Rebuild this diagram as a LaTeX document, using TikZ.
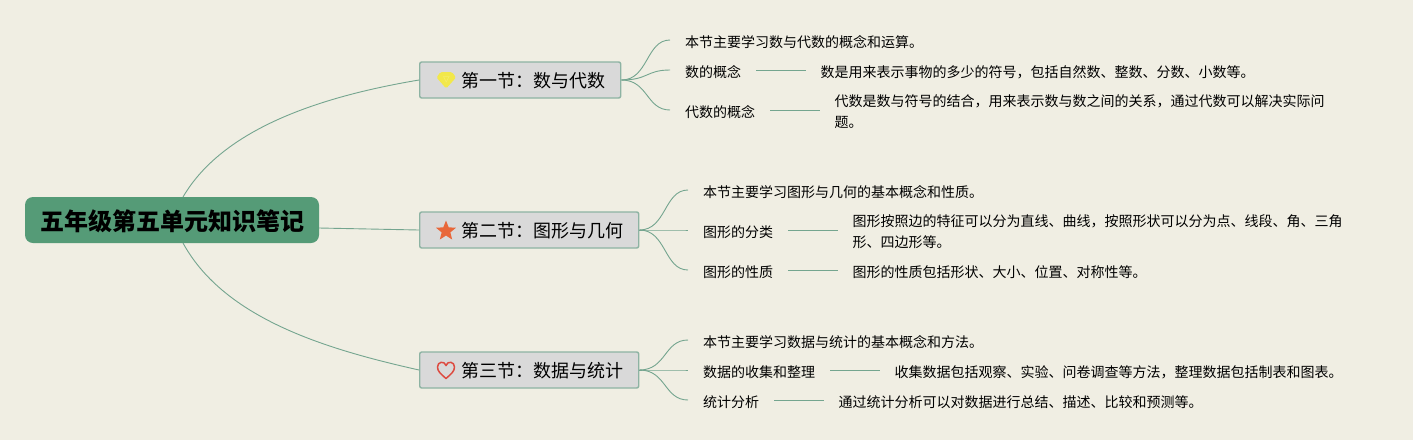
\documentclass[tikz,border=0pt]{standalone}
\usepackage{fontspec}
\setmainfont{Noto Sans CJK SC}
\usetikzlibrary{positioning,shapes.geometric}
\definecolor{paperbg}{HTML}{F0EEE3}
\definecolor{rootgreen}{HTML}{559B77}
\definecolor{linkgreen}{HTML}{74A58F}
\definecolor{sectgray}{HTML}{D9D9D9}
\definecolor{sectedge}{HTML}{8DB3A3}
\definecolor{gemyellow}{HTML}{F2E84B}
\definecolor{starorange}{HTML}{E8673A}
\definecolor{heartred}{HTML}{DD4A40}
\tikzset{
  rootbox/.style={shape=rectangle,fill=rootgreen,rounded corners=8pt,minimum width=294pt,minimum height=46pt,inner sep=0,text height=24pt,text depth=4pt,font=\fontsize{24}{28}\selectfont\bfseries},
  sectbox/.style={shape=rectangle,draw=sectedge,fill=sectgray,line width=1.4pt,rounded corners=2pt,anchor=west,minimum height=36pt,inner ysep=0,inner xsep=15pt,text height=18pt,text depth=2.4pt,font=\fontsize{18}{22}\selectfont},
  leafbox/.style={shape=rectangle,anchor=west,inner ysep=2pt,inner xsep=15pt,align=left,font=\fontsize{14}{21}\selectfont},
  textbox/.style={leafbox,inner xsep=14pt},
  linkline/.style={draw=linkgreen,line width=0.9pt},
  every edge/.style={draw=linkgreen,line width=0.9pt}
}
\begin{document}
\begin{tikzpicture}[x=1pt,y=-1pt]
\path[fill=paperbg] (0,0) rectangle (1413,440);

\node [rootbox] (root) at (172,220) {五年级第五单元知识笔记};
\coordinate (rootup) at (183,197);
\coordinate (rootside) at (319,228);
\coordinate (rootdown) at (183,243);

\node [sectbox] (sectA) at (419,80) {\hspace*{27pt}第一节：数与代数};
\node [sectbox] (sectB) at (419,230) {\hspace*{27pt}第二节：图形与几何};
\node [sectbox] (sectC) at (419,370) {\hspace*{27pt}第三节：数据与统计};

\node [leafbox] (leafAa) at (670,42) {本节主要学习数与代数的概念和运算。};
\node [leafbox] (leafAb) at (670,72) {数的概念};
\node [textbox, right=50pt of leafAb] (textAb) {数是用来表示事物的多少的符号，包括自然数、整数、分数、小数等。};
\node [leafbox] (leafAc) at (670,112) {代数的概念};
\node [textbox, right=50pt of leafAc] (textAc) {代数是数与符号的结合，用来表示数与数之间的关系，通过代数可以解决实际问\\题。};

\node [leafbox] (leafBa) at (688,192) {本节主要学习图形与几何的基本概念和性质。};
\node [leafbox] (leafBb) at (688,232) {图形的分类};
\node [textbox, right=50pt of leafBb] (textBb) {图形按照边的特征可以分为直线、曲线，按照形状可以分为点、线段、角、三角\\形、四边形等。};
\node [leafbox] (leafBc) at (688,272) {图形的性质};
\node [textbox, right=50pt of leafBc] (textBc) {图形的性质包括形状、大小、位置、对称性等。};

\node [leafbox] (leafCa) at (688,342) {本节主要学习数据与统计的基本概念和方法。};
\node [leafbox] (leafCb) at (688,372) {数据的收集和整理};
\node [textbox, right=50pt of leafCb] (textCb) {收集数据包括观察、实验、问卷调查等方法，整理数据包括制表和图表。};
\node [leafbox] (leafCc) at (688,402) {统计分析};
\node [textbox, right=50pt of leafCc] (textCc) {通过统计分析可以对数据进行总结、描述、比较和预测等。};

% root to sections
\draw[linkline] (rootup) .. controls (225,125) and (330,95) .. (sectA.west);
\draw[linkline] (rootside) -- (sectB.west);
\draw[linkline] (rootdown) .. controls (225,320) and (330,350) .. (sectC.west);

% sections to leaves
\foreach \leafname in {leafAa,leafAb,leafAc}
  \draw[linkline] (sectA.east) .. controls +(27,0) and +(-24,0) .. ([yshift=2pt]\leafname.west);
\foreach \leafname in {leafBa,leafBb,leafBc}
  \draw[linkline] (sectB.east) .. controls +(27,0) and +(-24,0) .. ([yshift=2pt]\leafname.west);
\foreach \leafname in {leafCa,leafCb,leafCc}
  \draw[linkline] (sectC.east) .. controls +(27,0) and +(-24,0) .. ([yshift=2pt]\leafname.west);

\path ([yshift=2pt]leafAb.east) edge ([yshift=2pt]textAb.west);
\path ([yshift=2pt]leafAc.east) edge ([yshift=2pt]textAc.west);
\path ([yshift=2pt]leafBb.east) edge ([yshift=2pt]textBb.west);
\path ([yshift=2pt]leafBc.east) edge ([yshift=2pt]textBc.west);
\path ([yshift=2pt]leafCb.east) edge ([yshift=2pt]textCb.west);
\path ([yshift=2pt]leafCc.east) edge ([yshift=2pt]textCc.west);

% icons
\fill[gemyellow,rounded corners=1.5pt] (440.5,72) -- (452,72) -- (456,77.5) -- (446.2,88.5) -- (436.5,77.5) -- cycle;
\draw[white!20!gemyellow,line width=0.5pt] (443,76.5) -- (449.5,76.5) (443.5,76.5) -- (446.2,82) -- (449,76.5);
\node [star,star points=5,star point ratio=2.3,fill=starorange,inner sep=0,minimum size=21pt] (starB) at (446,231) {};
\draw[draw=heartred,line width=1.5pt,line join=round] (446,378.5) .. controls (441,374) and (437.5,371.5) .. (437.5,367) .. controls (437.5,361.5) and (444.5,360.5) .. (446,365.5) .. controls (447.5,360.5) and (454.5,361.5) .. (454.5,367) .. controls (454.5,371.5) and (451,374) .. (446,378.5) -- cycle;
\end{tikzpicture}
\end{document}
